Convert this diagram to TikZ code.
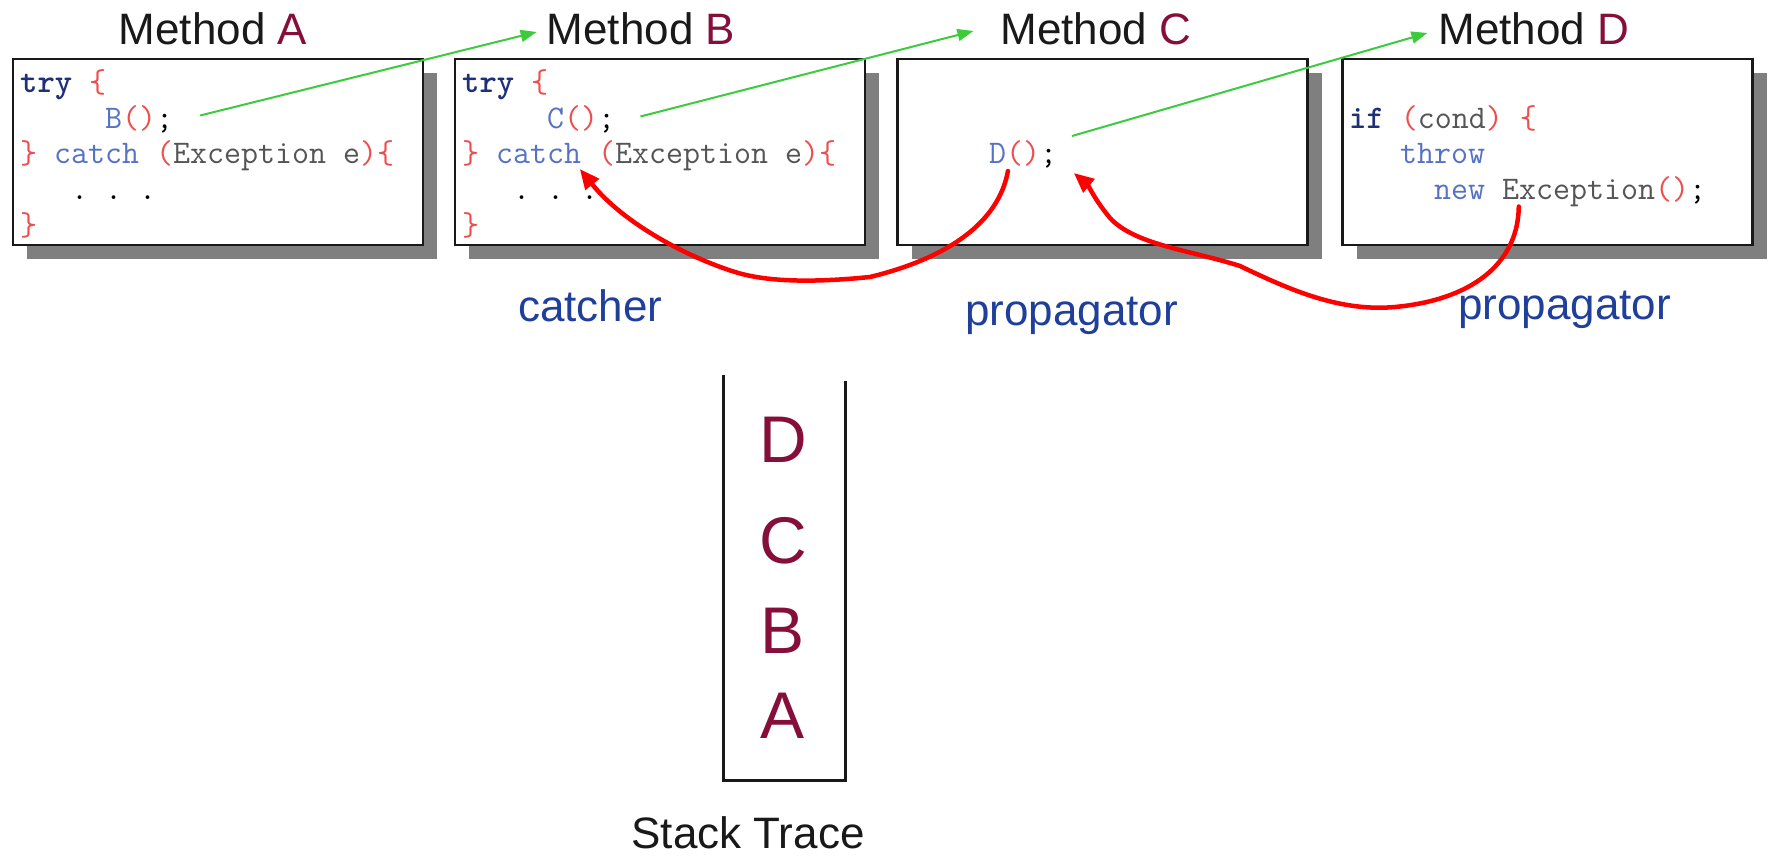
\documentclass[tikz,border=0pt]{standalone}
\usepackage{fontspec}
\setmainfont{Liberation Sans}
\usetikzlibrary{arrows.meta,calc,shadows}

\definecolor{maroon}{HTML}{850F3A}
\definecolor{labelnavy}{HTML}{1F3F9A}
\definecolor{kwnavy}{HTML}{1F3078}
\definecolor{codeblue}{HTML}{5572C4}
\definecolor{codered}{HTML}{F04C4C}
\definecolor{codegray}{HTML}{555555}
\definecolor{callgreen}{HTML}{3CCB3C}
\definecolor{throwred}{HTML}{FF0000}
\definecolor{shadowgray}{HTML}{7F7F7F}

% syntax colouring helpers for the code listings
\newcommand\cdkw[1]{\textcolor{kwnavy}{\bfseries #1}}
\newcommand\cdbl[1]{\textcolor{codeblue}{#1}}
\newcommand\cdrd[1]{\textcolor{codered}{#1}}
\newcommand\cdgy[1]{\textcolor{codegray}{#1}}
\newcommand\codefont{\fontsize{33}{40}\selectfont\ttfamily}
\newcommand\bigsans{\fontsize{44}{50}\selectfont}

\begin{document}
\begin{tikzpicture}[x=1pt,y=-1pt,
  title/.style={anchor=base, inner sep=0pt, font=\bigsans, text=black!90},
  codebox/.style={draw=black!90, fill=white, line width=2.5pt,
    minimum width=410pt, minimum height=186pt, inner sep=0pt,
    general shadow={fill=shadowgray, shadow xshift=14pt, shadow yshift=-14pt}},
  code/.style={anchor=base west, inner sep=0pt, font=\codefont, text=black},
  role/.style={anchor=base west, inner sep=0pt, font=\bigsans, text=labelnavy},
  frame/.style={anchor=base, inner sep=0pt, font=\fontsize{66}{70}\selectfont, text=maroon},
  callarrow/.style={draw=callgreen, line width=2pt,
    -{Triangle[length=16pt,width=12pt]}},
  throwarrow/.style={draw=throwred, line width=4.5pt, line cap=round,
    -{Triangle[length=20pt,width=17pt]}}]

\useasboundingbox (0,0) rectangle (1772,856);

% method titles
\node[title] (tA) at (213,45) {Method \textcolor{maroon}{A}};
\node[title] (tB) at (641,45) {Method \textcolor{maroon}{B}};
\node[title] (tC) at (1096,45) {Method \textcolor{maroon}{C}};
\node[title] (tD) at (1534,45) {Method \textcolor{maroon}{D}};

% code boxes with drop shadows
\node[codebox] (bA) at (218,152) {};
\node[codebox] (bB) at (660,152) {};
\node[codebox] (bC) at (1102.5,152) {};
\node[codebox] (bD) at (1547.5,152) {};

\def\cw{17.325}

% method A
\node[code] (a1) at (20,93)    {\cdkw{try}~\cdrd{\{}};
\node[code] (a2) at (20,128.5) {~~~~~\cdbl{B}\cdrd{()};};
\node[code] (a3) at (20,164) {\cdrd{\}}~\cdbl{catch}~\cdrd{(}\cdgy{Exception~e}\cdrd{)\{}};
\node[code] (a4) at (20,199.5) {~~~.~.~.};
\node[code] (a5) at (20,235) {\cdrd{\}}};

% method B
\node[code] (b1) at (462,93)    {\cdkw{try}~\cdrd{\{}};
\node[code] (b2) at (462,128.5) {~~~~~\cdbl{C}\cdrd{()};};
\node[code] (b3) at (462,164) {\cdrd{\}}~\cdbl{catch}~\cdrd{(}\cdgy{Exception~e}\cdrd{)\{}};
\node[code] (b4) at (462,199.5) {~~~.~.~.};
\node[code] (b5) at (462,235) {\cdrd{\}}};

% method C
\node[code] (c3) at (904,164) {~~~~~\cdbl{D}\cdrd{()};};

% method D
\node[code] (d2) at (1349,128.5) {\cdkw{if}~\cdrd{(}\cdgy{cond}\cdrd{)}~\cdrd{\{}};
\node[code] (d3) at (1349,164) {~~~\cdbl{throw}};
\node[code] (d4) at (1349,199.5) {~~~~~\cdbl{new}~\cdgy{Exception}\cdrd{()};};

% role labels
\node[role] (lcatch) at (518,321) {catcher};
\node[role] (lpropC) at (965,325) {propagator};
\node[role] (lpropD) at (1458,319) {propagator};

% call stack
\node[frame] (sD) at (783,462) {D};
\node[frame] (sC) at (783,563) {C};
\node[frame] (sB) at (783,653) {B};
\node[frame] (sA) at (783,738) {A};
\coordinate (stl) at (723,375);
\coordinate (str) at (845,381);
\draw[line width=3pt, draw=black!90] (stl) -- (stl |- 0,780) -- (str |- 0,780) -- (str);
\node[title] (stack) at (748,848) {Stack Trace};

% calls: each method invokes the next one
\coordinate (callB) at ($(a2.base west)+(10.4*\cw,-13)$);
\coordinate (callC) at ($(b2.base west)+(10.3*\cw,-12)$);
\coordinate (callD) at ($(c3.base west)+(9.7*\cw,-28)$);
\coordinate (tipB) at ($(tB.base west)+(-10,-13)$);
\coordinate (tipC) at ($(tC.base west)+(-27,-14)$);
\coordinate (tipD) at ($(tD.base west)+(-11,-12)$);
\draw[callarrow] (callB) -- (tipB);
\draw[callarrow] (callC) -- (tipC);
\draw[callarrow] (callD) -- (tipD);

% the exception travels back from D through C to the catch in B
\coordinate (thrD) at ($(d4.base west)+(9.8*\cw,7)$);
\coordinate (atC) at ($(c3.base west)+(9.8*\cw,9)$);
\coordinate (fromC) at ($(c3.base west)+(6*\cw,7)$);
\coordinate (atB) at ($(b3.base west)+(6.8*\cw,5)$);

\draw[throwarrow] (thrD)
  .. controls (1518,265) and (1470,300) .. (1395,307)
  .. controls (1340,312) and (1290,290) .. (1240,266)
  .. controls (1190,250) and (1135,245) .. (1110,218)
  .. controls (1095,200) and (1088,185) .. (atC);

\draw[throwarrow] (fromC)
  .. controls (1000,215) and (960,255) .. (870,277)
  .. controls (820,282) and (770,283) .. (735,272)
  .. controls (690,258) and (625,225) .. (atB);

\end{tikzpicture}
\end{document}
